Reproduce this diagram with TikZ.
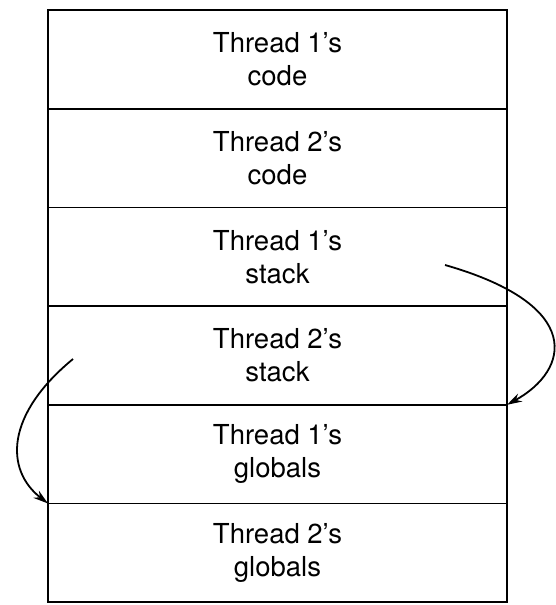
\documentclass[tikz,border=0pt]{standalone}
\usepackage{fontspec}
\setmainfont{TeX Gyre Heros}
\usetikzlibrary{positioning, arrows.meta}

\tikzset{
  segment/.style={draw, line width=1.8pt, minimum width=459pt, minimum height=98.7pt,
    inner sep=0pt, outer sep=0pt, align=center, font=\fontsize{27.5}{33}\selectfont},
  link/.style={line width=1.8pt, -{Stealth[length=15pt,width=9pt]}}
}

\begin{document}
\begin{tikzpicture}[x=1pt, y=-1pt]
  \useasboundingbox (0,0) rectangle (555,605);
  % address space
  \node[segment] (t1code) at (277.5,59.35) {Thread 1's\\code};
  \node[segment, below=0pt of t1code] (t2code) {Thread 2's\\code};
  \node[segment, below=0pt of t2code] (t1stack) {Thread 1's\\stack};
  \node[segment, below=0pt of t1stack] (t2stack) {Thread 2's\\stack};
  \node[segment, below=0pt of t2stack] (t1glob) {Thread 1's\\globals};
  \node[segment, below=0pt of t1glob] (t2glob) {Thread 2's\\globals};
  % stack pointers
  \coordinate (from1) at (445,265);
  \coordinate (from2) at (73,359);
  \draw[link] (from1) .. controls (585,305) and (570,370) .. (t2stack.south east);
  \draw[link] (from2) .. controls (5,415) and (5,470) .. (t1glob.south west);
\end{tikzpicture}
\end{document}
